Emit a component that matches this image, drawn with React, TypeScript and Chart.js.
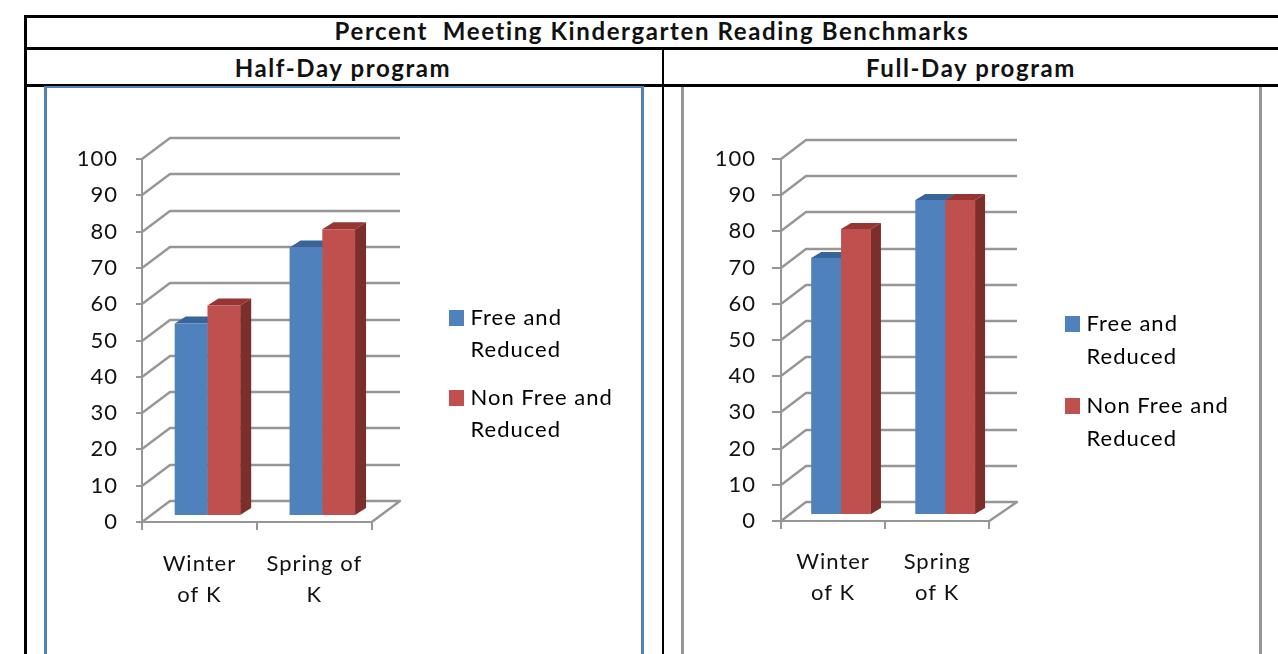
import React, { useEffect, useRef } from "react";
import { Chart, registerables } from "chart.js";

Chart.register(...registerables);

const pageTitle = "Percent  Meeting Kindergarten Reading Benchmarks";
const seriesNames = [["Free and", "Reduced"], ["Non Free and", "Reduced"]];
const halfDayTitle = "Half-Day program";
const halfDayCategories = [["Winter", "of K"], ["Spring of", "K"]];
const halfDayFree = [53, 74];
const halfDayNonFree = [58, 79];
const fullDayTitle = "Full-Day program";
const fullDayCategories = [["Winter", "of K"], ["Spring", "of K"]];
const fullDayFree = [71, 87];
const fullDayNonFree = [79, 87];
const yTickStep = 10;
const yMax = 100;

const BLUE = "#4F81BD";
const RED = "#C0504D";
const BLUE_TOP = "#376499";
const BLUE_SIDE = "#2F5483";
const RED_TOP = "#963634";
const RED_SIDE = "#7C2E2B";
const GRID = "#969696";
const FONT = "Lato";
const LEGEND_FIT = 100;

type Layout = {
  frame: { left: number; top: number; width: number; height: number; color: string };
  axisLeft: number; axisRight: number; top100: number; bottom0: number;
  wallDx: number; wallDy: number; wallRight: number;
  barDx: number; barDy: number; depthX: number; depthY: number;
  tickY: number; padY: number; padX: number;
  catPct: number; legendX: number; legendY: number; legendLH: number;
};

const legendSwatch = (color: string) => {
  const c = document.createElement("canvas");
  c.width = 15; c.height = 16;
  const g = c.getContext("2d")!;
  g.fillStyle = color;
  g.fillRect(0, 0, 15, 16);
  return c;
};

function ChartPanel({ layout, categories, free, nonFree }: { layout: Layout; categories: string[][]; free: number[]; nonFree: number[] }) {
  const ref = useRef<HTMLCanvasElement>(null);
  useEffect(() => {
    const L = layout;
    const f = L.frame;
    const perspective = {
      id: "perspective",
      beforeLayout(chart: any) {
        if (chart.legend) chart.legend.afterFit = function () { this.width = LEGEND_FIT; };
      },
      afterLayout(chart: any) {
        if (chart.legend) {
          chart.legend.left = L.legendX - f.left;
          chart.legend.right = f.width;
          chart.legend.top = L.legendY - f.top;
          chart.legend.bottom = f.height;
        }
      },
      beforeDraw(chart: any) {
        chart.ctx.letterSpacing = "1px";
      },
      beforeDatasetsDraw(chart: any) {
        const { ctx } = chart;
        const y = chart.scales.y;
        const x = chart.scales.x;
        const a = chart.chartArea;
        ctx.save();
        ctx.strokeStyle = GRID;
        ctx.lineWidth = 2.4;
        ctx.lineJoin = "round";
        for (const t of y.ticks) {
          const py = Math.round(y.getPixelForValue(t.value));
          ctx.beginPath();
          ctx.moveTo(a.left, py);
          ctx.lineTo(a.left + L.wallDx, py - L.wallDy);
          ctx.lineTo(L.wallRight - f.left, py - L.wallDy);
          if (t.value === 0) ctx.lineTo(x.right, py);
          ctx.stroke();
        }
        ctx.restore();
        ctx.save();
        ctx.translate(L.barDx, -L.barDy);
        const faces = [[BLUE_TOP, BLUE_SIDE], [RED_TOP, RED_SIDE]];
        chart.data.datasets.forEach((_: any, di: number) => {
          chart.getDatasetMeta(di).data.forEach((bar: any) => {
            const l = bar.x - bar.width / 2;
            const r = bar.x + bar.width / 2;
            ctx.fillStyle = faces[di][0];
            ctx.beginPath();
            ctx.moveTo(l, bar.y);
            ctx.lineTo(l + L.depthX, bar.y - L.depthY);
            ctx.lineTo(r + L.depthX, bar.y - L.depthY);
            ctx.lineTo(r, bar.y);
            ctx.closePath();
            ctx.fill();
            ctx.fillStyle = faces[di][1];
            ctx.beginPath();
            ctx.moveTo(r, bar.y);
            ctx.lineTo(r + L.depthX, bar.y - L.depthY);
            ctx.lineTo(r + L.depthX, bar.base - L.depthY);
            ctx.lineTo(r, bar.base);
            ctx.closePath();
            ctx.fill();
          });
        });
      },
      afterDatasetsDraw(chart: any) {
        chart.ctx.restore();
      },
    };
    const chart = new Chart(ref.current!, {
      type: "bar",
      data: {
        labels: categories as any,
        datasets: [
          { label: seriesNames[0] as any, data: free, backgroundColor: BLUE, borderWidth: 0 },
          { label: seriesNames[1] as any, data: nonFree, backgroundColor: RED, borderWidth: 0 },
        ],
      },
      options: {
        responsive: false,
        animation: false,
        events: [],
        layout: { padding: { left: 0, right: f.width - (L.axisRight - f.left) - LEGEND_FIT, top: L.top100 - f.top, bottom: 0 } },
        datasets: { bar: { categoryPercentage: L.catPct, barPercentage: 1, clip: false as any } },
        plugins: {
          tooltip: { enabled: false },
          title: { display: false },
          legend: {
            display: true,
            position: "right",
            align: "start",
            labels: {
              usePointStyle: true,
              boxWidth: 6,
              boxHeight: 15,
              padding: 17,
              color: "#111",
              font: { family: FONT, size: 22, lineHeight: L.legendLH / 22 },
              generateLabels: () => [
                { text: seriesNames[0] as any, pointStyle: legendSwatch(BLUE), fillStyle: BLUE, lineWidth: 0, hidden: false, datasetIndex: 0 },
                { text: seriesNames[1] as any, pointStyle: legendSwatch(RED), fillStyle: RED, lineWidth: 0, hidden: false, datasetIndex: 1 },
              ],
            },
          },
        },
        scales: {
          x: {
            afterFit: (s: any) => { s.height = f.height - (L.bottom0 - f.top); },
            grid: { color: GRID, lineWidth: 2, drawOnChartArea: false, drawTicks: true, tickLength: 8, offset: true },
            border: { color: GRID, width: 2 },
            ticks: { autoSkip: false, maxRotation: 0, minRotation: 0, padding: L.padX, color: "#111", font: { family: FONT, size: 22, lineHeight: 31 / 22 } },
          },
          y: {
            min: 0,
            max: yMax,
            afterFit: (s: any) => { s.width = L.axisLeft - f.left; },
            grid: { color: GRID, lineWidth: 2, drawOnChartArea: false, drawTicks: true, tickLength: L.tickY },
            border: { color: GRID, width: 2 },
            ticks: { stepSize: yTickStep, padding: L.padY, color: "#111", font: { family: FONT, size: 22 } },
          },
        },
      } as any,
      plugins: [perspective],
    });
    return () => chart.destroy();
  }, []);
  const f = layout.frame;
  return (
    <canvas
      ref={ref}
      width={f.width}
      height={f.height}
      style={{ position: "absolute", left: f.left, top: f.top, width: f.width, height: f.height, display: "block" }}
    />
  );
}

const halfLayout: Layout = {
  frame: { left: 47, top: 88, width: 594, height: 580, color: BLUE },
  axisLeft: 142, axisRight: 380, top100: 159, bottom0: 522,
  wallDx: 28, wallDy: 21, wallRight: 400,
  barDx: 8, barDy: 6, depthX: 11, depthY: 7,
  tickY: 6, padY: 18, padX: 18, catPct: 0.57,
  legendX: 436.5, legendY: 290, legendLH: 31.5,
};
const fullLayout: Layout = {
  frame: { left: 684, top: 88, width: 575, height: 580, color: GRID },
  axisLeft: 781, axisRight: 991, top100: 159, bottom0: 521,
  wallDx: 25, wallDy: 19, wallRight: 1017,
  barDx: 8, barDy: 6, depthX: 10, depthY: 6,
  tickY: 9, padY: 16, padX: 17, catPct: 0.574,
  legendX: 1052.5, legendY: 296, legendLH: 32.5,
};

const abs = (left: number, top: number, width: number, height: number, background: string): React.CSSProperties => ({ position: "absolute", left, top, width, height, background });
const heading = (center: number, middle: number, size: number): React.CSSProperties => ({
  position: "absolute", left: center - 400, width: 800, top: middle - 20, height: 40, lineHeight: "40px",
  textAlign: "center", fontFamily: FONT, fontWeight: 700, fontSize: size, letterSpacing: 1.6, color: "#111", whiteSpace: "pre",
});

export default function App() {
  return (
    <div style={{ position: "fixed", left: 0, top: 0, width: 1278, height: 654, overflow: "hidden", background: "#fff" }}>
      <div style={abs(24, 15, 1254, 3, "#000")} />
      <div style={abs(24, 47, 1254, 3, "#000")} />
      <div style={abs(24, 84, 1254, 3, "#000")} />
      <div style={abs(24, 15, 3, 639, "#000")} />
      <div style={abs(662, 48, 2, 606, "#000")} />
      <div style={abs(44, 87, 3, 567, BLUE)} />
      <div style={abs(641, 87, 3, 567, BLUE)} />
      <div style={abs(44, 86, 600, 2, BLUE)} />
      <div style={abs(681, 87, 3, 567, GRID)} />
      <div style={abs(1259, 87, 3, 567, GRID)} />
      <div style={heading(652, 31, 24)}>{pageTitle}</div>
      <div style={heading(343, 68, 24)}>{halfDayTitle}</div>
      <div style={heading(971, 68, 24)}>{fullDayTitle}</div>
      <ChartPanel layout={halfLayout} categories={halfDayCategories} free={halfDayFree} nonFree={halfDayNonFree} />
      <ChartPanel layout={fullLayout} categories={fullDayCategories} free={fullDayFree} nonFree={fullDayNonFree} />
    </div>
  );
}
